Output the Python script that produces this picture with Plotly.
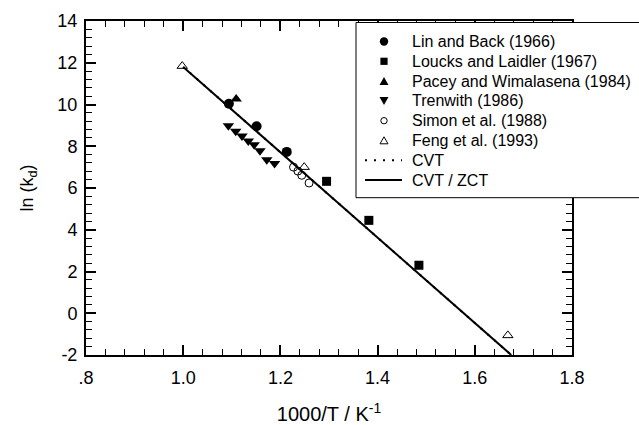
import plotly.graph_objects as go

# Data
lin_x = [1.094, 1.151, 1.213]
lin_y = [10.04, 8.96, 7.73]

loucks_x = [1.295, 1.382, 1.485]
loucks_y = [6.32, 4.45, 2.30]

pacey_x = [1.109]
pacey_y = [10.26]

tren_x = [1.093, 1.108, 1.121, 1.134, 1.146, 1.158, 1.172, 1.188]
tren_y = [8.98, 8.72, 8.49, 8.25, 8.07, 7.79, 7.35, 7.17]

simon_x = [1.227, 1.236, 1.244, 1.259]
simon_y = [7.00, 6.81, 6.61, 6.24]

feng_x = [0.998, 1.249, 1.668]
feng_y = [11.84, 7.00, -1.06]

cvt_x = [1.0, 1.675]
cvt_y = [11.8, -2.0]

zct_x = [1.0, 1.675]
zct_y = [11.8, -2.0]

legend_labels = ["Lin and Back (1966)", "Loucks and Laidler (1967)", "Pacey and Wimalasena (1984)",
                 "Trenwith (1986)", "Simon et al. (1988)", "Feng et al. (1993)", "CVT", "CVT / ZCT"]

x_tickvals = [0.8, 1.0, 1.2, 1.4, 1.6, 1.8]
x_ticktext = [".8", "1.0", "1.2", "1.4", "1.6", "1.8"]
y_tickvals = [-2, 0, 2, 4, 6, 8, 10, 12, 14]
y_ticktext = ["-2", "0", "2", "4", "6", "8", "10", "12", "14"]

FONT = "Liberation Sans, Arial, sans-serif"
W, H = 639, 425
ML, MR, MT, MB = 86, 67, 21, 70
PW, PH = W - ML - MR, H - MT - MB
DOT = "2px,7px"


def px_x(x):
    return (x - ML) / PW


def px_y(y):
    return (H - MB - y) / PH


fig = go.Figure()
fig.add_trace(go.Scatter(x=cvt_x, y=cvt_y, mode="lines", name="CVT",
                         line=dict(color="black", width=2, dash=DOT)))
fig.add_trace(go.Scatter(x=zct_x, y=zct_y, mode="lines", name="CVT / ZCT",
                         line=dict(color="black", width=2)))
fig.add_trace(go.Scatter(x=lin_x, y=lin_y, mode="markers", name=legend_labels[0],
                         marker=dict(symbol="circle", size=10, color="black")))
fig.add_trace(go.Scatter(x=loucks_x, y=loucks_y, mode="markers", name=legend_labels[1],
                         marker=dict(symbol="square", size=9, color="black")))
fig.add_trace(go.Scatter(x=pacey_x, y=pacey_y, mode="markers", name=legend_labels[2],
                         marker=dict(symbol="triangle-up", size=10, color="black")))
fig.add_trace(go.Scatter(x=tren_x, y=tren_y, mode="markers", name=legend_labels[3],
                         marker=dict(symbol="triangle-down", size=10, color="black")))
fig.add_trace(go.Scatter(x=simon_x, y=simon_y, mode="markers", name=legend_labels[4],
                         marker=dict(symbol="circle-open", size=8, color="black", line=dict(width=1))))
fig.add_trace(go.Scatter(x=feng_x, y=feng_y, mode="markers", name=legend_labels[5],
                         marker=dict(symbol="triangle-up-open", size=9, color="black", line=dict(width=1))))

axis_common = dict(
    showline=True, linecolor="black", linewidth=2, mirror="ticks",
    ticks="inside", ticklen=10, tickwidth=1.5, tickcolor="black",
    showgrid=False, zeroline=False,
    tickfont=dict(family=FONT, size=18, color="black"),
)

fig.update_xaxes(**axis_common, range=[0.8, 1.8], tickvals=x_tickvals, ticktext=x_ticktext,
                 ticklabelstandoff=5,
                 minor=dict(dtick=0.04, tick0=0.8, ticks="inside", ticklen=6, tickwidth=1.2, tickcolor="black"),
                 title=dict(text="1000/T / K<sup>-1</sup>", font=dict(family=FONT, size=20, color="black"),
                            standoff=26))
fig.update_yaxes(**axis_common, range=[-2, 14], tickvals=y_tickvals, ticktext=y_ticktext,
                 ticklabelstandoff=3,
                 minor=dict(dtick=0.4, tick0=-2, ticks="inside", ticklen=6, tickwidth=1.2, tickcolor="black"),
                 title=dict(text="ln (k<sub>d</sub>)", font=dict(family=FONT, size=18, color="black"),
                            standoff=19))

# ---- legend box (drawn manually so that its geometry matches the reference) ----
shapes = [dict(type="rect", xref="paper", yref="paper", x0=px_x(356), x1=px_x(W + 20),
               y0=px_y(197.7), y1=px_y(22.5), line=dict(color="black", width=1),
               fillcolor="white", layer="above")]
row0, step = 41.5, 19.8
sym_x, txt_x = 384, 410
annotations = []
for i, label in enumerate(legend_labels):
    ry = row0 + i * step
    annotations.append(dict(text=label, xref="paper", yref="paper", x=px_x(txt_x), y=px_y(ry),
                            xanchor="left", yanchor="middle", showarrow=False,
                            font=dict(family=FONT, size=16, color="black")))
    key = dict(xref="paper", yref="paper", xsizemode="pixel", ysizemode="pixel",
               xanchor=px_x(sym_x), yanchor=px_y(ry), layer="above")
    if i == 0:
        key.update(type="circle", x0=-4.2, x1=4.2, y0=-4.2, y1=4.2, fillcolor="black",
                   line=dict(color="black", width=0))
    elif i == 1:
        key.update(type="rect", x0=-3.6, x1=3.6, y0=-3.6, y1=3.6, fillcolor="black",
                   line=dict(color="black", width=0))
    elif i == 2:
        key.update(type="path", path="M-4.5,-3.8 L4.5,-3.8 L0,4 Z", fillcolor="black",
                   line=dict(color="black", width=0))
    elif i == 3:
        key.update(type="path", path="M-4.5,3.8 L4.5,3.8 L0,-4 Z", fillcolor="black",
                   line=dict(color="black", width=0))
    elif i == 4:
        key.update(type="circle", x0=-3.2, x1=3.2, y0=-3.2, y1=3.2, fillcolor="white",
                   line=dict(color="black", width=1))
    elif i == 5:
        key.update(type="path", path="M-4,-3.3 L4,-3.3 L0,3.7 Z", fillcolor="white",
                   line=dict(color="black", width=1))
    elif i == 6:
        key.update(type="line", x0=-19, x1=18, y0=0, y1=0, line=dict(color="black", width=2, dash=DOT))
    else:
        key.update(type="line", x0=-19, x1=18, y0=0, y1=0, line=dict(color="black", width=2))
    shapes.append(key)

fig.update_layout(
    width=W, height=H,
    margin=dict(l=ML, r=MR, t=MT, b=MB, autoexpand=False),
    paper_bgcolor="white", plot_bgcolor="white",
    font=dict(family=FONT, color="black"),
    showlegend=False,
    shapes=shapes,
    annotations=annotations,
)

fig.write_html("out.html", config={"displayModeBar": False},
               post_script="document.body.style.margin='0';")
